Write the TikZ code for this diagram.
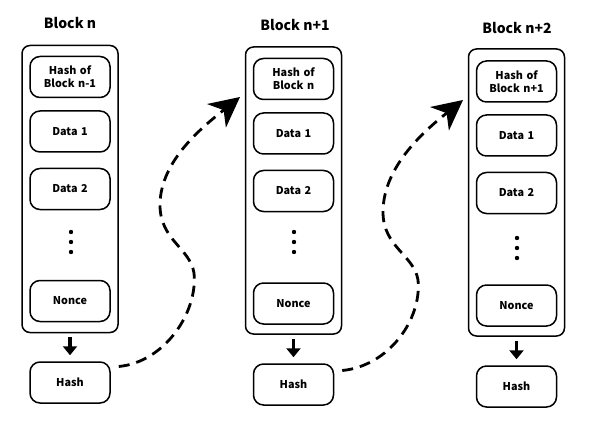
\documentclass[tikz,border=0pt]{standalone}
\usepackage{fontspec}
\setmainfont{Noto Sans CJK SC}
\usepackage{tikz}
\usetikzlibrary{arrows.meta,positioning}
\tikzset{
    blockbox/.style={
        rectangle,
        rounded corners=8pt,
        draw=black, line width=1.5pt,
        minimum width=96pt,
        minimum height=287pt,
    },
    cell/.style={
        rectangle,
        rounded corners=10pt,
        draw=black, line width=1.5pt,
        minimum width=80pt,
        minimum height=41pt,
        text width=72pt,
        align=center,
        font={\fontsize{10.8pt}{13pt}\selectfont\bfseries},
    },
    title/.style={font={\fontsize{14pt}{16pt}\selectfont\bfseries}},
    dot/.style={circle, fill=black, inner sep=0pt, minimum size=4.4pt},
    down/.style={line width=3.8pt, -{Triangle[width=14pt,length=9pt]},
        shorten <=4pt, shorten >=6pt},
    link/.style={line width=2.8pt, dash pattern=on 11pt off 7pt,
        -{Stealth[length=30pt,width=30pt,inset=9pt]}},
}

\begin{document}
\begin{tikzpicture}[x=1pt,y=-1pt]
\useasboundingbox (0,0) rectangle (591,422);
% block n
\node[title] (t1) at (70,23) {Block n};
\node[blockbox] (b1) at (70,189) {};
\node[cell] (p1) at (70,77) {Hash of\\Block n-1};
\node[cell] (da1) at (70,131.5) {Data 1};
\node[cell] (db1) at (70,189) {Data 2};
\node[dot] (v1) at (71,242) {};
\node[dot] at (71,232) {};
\node[dot] at (71,252) {};
\node[cell] (n1) at (70,301) {Nonce};
\node[cell] (h1) at (70,382.5) {Hash};
\draw[down] (b1.south) -- (h1.north);
% block n+1
\node[title] (t2) at (295,25) {Block n+1};
\node[blockbox] (b2) at (293.5,190.5) {};
\node[cell] (p2) at (293.5,79) {Hash of\\Block n};
\node[cell] (da2) at (293.5,133.5) {Data 1};
\node[cell] (db2) at (293.5,191) {Data 2};
\node[dot] (v2) at (294,242) {};
\node[dot] at (294,232) {};
\node[dot] at (294,252) {};
\node[cell] (n2) at (293.5,303.5) {Nonce};
\node[cell] (h2) at (293.5,384.5) {Hash};
\draw[down] (b2.south) -- (h2.north);
% block n+2
\node[title] (t3) at (517,28) {Block n+2};
\node[blockbox] (b3) at (516.5,192.5) {};
\node[cell] (p3) at (516.5,81.5) {Hash of\\Block n+1};
\node[cell] (da3) at (516.5,135.5) {Data 1};
\node[cell] (db3) at (516.5,193) {Data 2};
\node[dot] (v3) at (517,248) {};
\node[dot] at (517,238) {};
\node[dot] at (517,258) {};
\node[cell] (n3) at (516.5,305.5) {Nonce};
\node[cell] (h3) at (516.5,386.5) {Hash};
\draw[down] (b3.south) -- (h3.north);
% links
\coordinate (tip1) at (240,97);
\coordinate (tip2) at (463,100);
\draw[link] ([shift={(8,-16)}]h1.east) .. controls (165,362) and (198,312) .. (194,273)
    .. controls (190,248) and (160,240) .. (160,205)
    .. controls (160,160) and (205,125) .. (tip1);
\draw[link] ([shift={(8,-14)}]h2.east) .. controls (389,366) and (422,319) .. (418,280)
    .. controls (414,255) and (383,247) .. (383,212)
    .. controls (383,165) and (428,128) .. (tip2);
\end{tikzpicture}
\end{document}
